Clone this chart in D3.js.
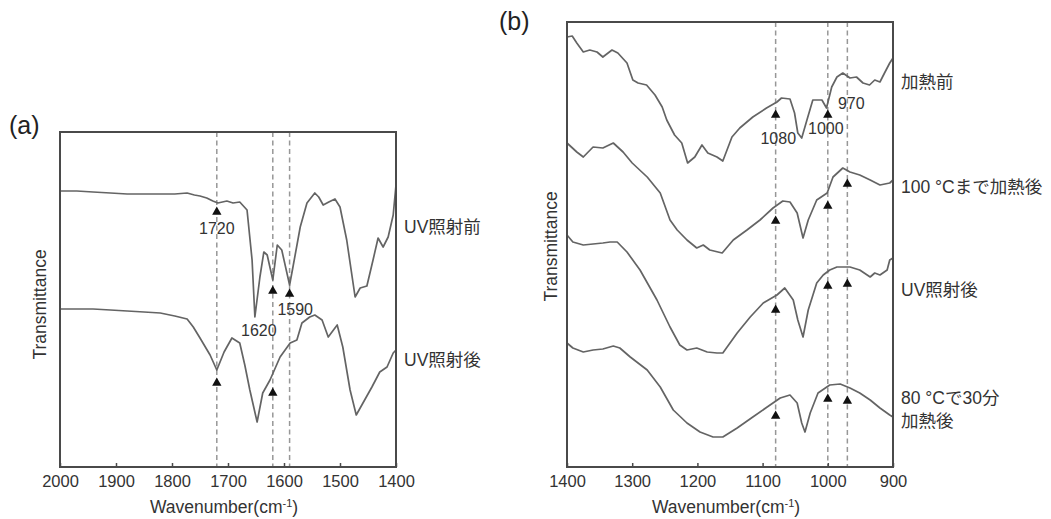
<!DOCTYPE html>
<html>
<head>
<meta charset="utf-8">
<script src="https://cdn.jsdelivr.net/npm/d3@7"></script>
<style>
  html, body { margin: 0; padding: 0; background: #fff; }
  svg { display: block; }
</style>
</head>
<body>
<div id="chart"></div>
<script>
// IR spectra, [wavenumber, transmittance (a.u.)]
const specA_before = [[2000,276],[1970,276],[1941,275],[1910,274],[1880,273],[1850,273],[1821,273],[1795,273],[1773,274],[1760,272],[1750,271],[1738,269],[1727,266],[1718,264],[1702,266],[1691,264],[1679,265],[1666,257],[1657,207],[1652,150],[1643,190],[1636,215],[1630,212],[1620,187],[1612,222],[1604,217],[1590,182],[1584,200],[1571,240],[1559,264],[1545,274],[1538,270],[1530,262],[1520,265],[1509,268],[1500,260],[1488,227],[1473,170],[1464,179],[1452,181],[1441,207],[1432,229],[1423,220],[1414,230],[1405,252],[1400,282]];
const specA_after = [[2000,158],[1970,158],[1941,158],[1910,157],[1880,156],[1850,155],[1821,154],[1795,151],[1773,148],[1762,140],[1750,129],[1732,112],[1720,97],[1707,115],[1693,129],[1679,124],[1670,102],[1661,77],[1648,45],[1638,74],[1625,87],[1607,110],[1589,124],[1577,127],[1568,144],[1554,150],[1545,152],[1532,147],[1521,130],[1505,142],[1495,120],[1482,77],[1471,52],[1459,64],[1443,80],[1429,95],[1416,100],[1405,114],[1400,117]];

const specB_beforeHeat = [[1400,430],[1392,431],[1385,424],[1375,415],[1365,417],[1354,415],[1345,410],[1331,417],[1322,414],[1308,404],[1299,387],[1291,384],[1278,382],[1265,372],[1254,360],[1247,347],[1235,332],[1224,324],[1215,304],[1204,310],[1193,322],[1184,314],[1170,310],[1161,306],[1147,330],[1135,339],[1115,350],[1094,359],[1078,365],[1071,369],[1058,368],[1051,354],[1046,334],[1040,329],[1032,347],[1023,367],[1009,367],[1002,359],[994,380],[986,390],[977,394],[966,389],[956,390],[946,384],[936,382],[928,387],[920,385],[913,394],[905,404],[900,409]];
const specB_after100 = [[1400,324],[1385,315],[1375,310],[1360,320],[1345,319],[1329,324],[1314,315],[1300,304],[1277,290],[1257,274],[1242,247],[1231,237],[1216,227],[1201,219],[1191,222],[1181,217],[1162,214],[1145,227],[1124,237],[1104,247],[1084,259],[1069,266],[1058,265],[1047,254],[1038,229],[1030,247],[1017,267],[1001,274],[992,290],[977,299],[966,295],[951,292],[935,287],[920,282],[905,284],[900,287]];
const specB_afterUV = [[1400,232],[1391,225],[1375,222],[1360,223],[1345,224],[1334,225],[1323,225],[1308,215],[1288,197],[1262,167],[1242,140],[1227,122],[1216,117],[1201,119],[1185,115],[1170,114],[1161,114],[1139,134],[1119,150],[1099,164],[1078,172],[1066,179],[1053,167],[1046,147],[1038,130],[1030,157],[1017,184],[1007,192],[997,197],[986,200],[966,200],[951,197],[935,190],[928,194],[920,192],[909,197],[905,207],[900,209]];
const specB_after80 = [[1400,124],[1391,119],[1375,115],[1360,117],[1345,118],[1329,121],[1319,119],[1303,110],[1277,97],[1257,80],[1237,57],[1216,44],[1196,35],[1176,30],[1161,30],[1139,39],[1115,50],[1093,60],[1073,69],[1058,72],[1047,64],[1040,44],[1035,35],[1027,54],[1015,74],[997,82],[981,83],[966,79],[951,74],[935,67],[920,59],[905,52],[900,50]];

// peak markers [wavenumber, transmittance]
const markersA = [[1720,255],[1620,176],[1590,173],[1720,84],[1620,74]];
const markersB = [[1080,352],[1000,352],[1080,246],[1000,261],[970,283],[1080,157],[1000,181],[970,183],[1080,51],[1000,68],[970,66]];

const peakLinesA = [1720, 1620, 1590];
const peakLinesB = [1080, 1000, 970];
const peakLabelsA = [["1720",1720,239],["1620",1645,137],["1590",1580,158]];
const peakLabelsB = [["1080",1076,329],["1000",1003,339],["970",964,364]];

const ticksA = [2000, 1900, 1800, 1700, 1600, 1500, 1400];
const ticksB = [1400, 1300, 1200, 1100, 1000, 900];

const seriesLabelsA = [["UV照射前", 240], ["UV照射後", 107]];
const seriesLabelsB = [["加熱前", 385], ["100 °Cまで加熱後", 280], ["UV照射後", 177], ["80 °Cで30分", 69], ["加熱後", 46]];

const W = 1051, H = 519;
const font = '"Liberation Sans", Arial, "Noto Sans CJK JP", sans-serif';
const curveColor = '#646464', frameColor = '#4a4a4a', textColor = '#333', dashColor = '#979797';

const svg = d3.select('#chart').append('svg')
  .attr('width', W).attr('height', H)
  .style('font-family', font);
svg.append('rect').attr('width', W).attr('height', H).attr('fill', '#fff');

function panel(cfg) {
  const x = d3.scaleLinear().domain(cfg.xDomain).range([cfg.left, cfg.right]);
  const y = d3.scaleLinear().domain(cfg.yDomain).range([cfg.bottom, cfg.top]);
  const g = svg.append('g');

  // dashed guide lines
  g.selectAll('.peak-line').data(cfg.peakLines).join('line')
    .attr('x1', d => x(d)).attr('x2', d => x(d))
    .attr('y1', cfg.top).attr('y2', cfg.bottom)
    .attr('stroke', dashColor).attr('stroke-width', 1.5)
    .attr('stroke-dasharray', '5,3.5');

  const line = d3.line().x(d => x(d[0])).y(d => y(d[1]));
  g.selectAll('.spec').data(cfg.series).join('path')
    .attr('d', line)
    .attr('fill', 'none')
    .attr('stroke', curveColor)
    .attr('stroke-width', 1.7)
    .attr('stroke-linejoin', 'round');

  g.selectAll('.marker').data(cfg.markers).join('path')
    .attr('d', d3.symbol(d3.symbolTriangle, 38))
    .attr('transform', d => `translate(${x(d[0])},${y(d[1])})`)
    .attr('fill', '#111');

  g.selectAll('.peak-label').data(cfg.peakLabels).join('text')
    .attr('x', d => x(d[1])).attr('y', d => y(d[2]))
    .attr('dy', '0.36em')
    .attr('text-anchor', 'middle')
    .attr('font-size', 16)
    .attr('fill', textColor)
    .text(d => d[0]);

  // frame
  g.append('rect')
    .attr('x', cfg.left).attr('y', cfg.top)
    .attr('width', cfg.right - cfg.left).attr('height', cfg.bottom - cfg.top)
    .attr('fill', 'none').attr('stroke', frameColor).attr('stroke-width', 2);

  const axis = g.append('g')
    .attr('transform', `translate(0,${cfg.bottom})`)
    .call(d3.axisBottom(x).tickValues(cfg.ticks).tickFormat(d3.format('d'))
      .tickSizeInner(-4).tickSizeOuter(0).tickPadding(8));
  axis.select('.domain').remove();
  axis.selectAll('.tick line').attr('stroke', frameColor).attr('stroke-width', 1.5);
  axis.selectAll('.tick text')
    .attr('font-size', 16.5).attr('fill', textColor)
    .attr('font-family', font);

  const xt = g.append('text')
    .attr('x', (cfg.left + cfg.right) / 2 - 4).attr('y', 513)
    .attr('text-anchor', 'middle')
    .attr('font-size', 17.5).attr('fill', textColor);
  xt.append('tspan').text('Wavenumber(cm');
  xt.append('tspan').attr('font-size', 11).attr('dy', -6).text('-1');
  xt.append('tspan').attr('dy', 6).text(')');

  g.append('text')
    .attr('transform', `translate(${cfg.yTitleX},${(cfg.top + cfg.bottom) / 2 + cfg.yTitleShift}) rotate(-90)`)
    .attr('text-anchor', 'middle')
    .attr('dy', '0.36em')
    .attr('font-size', 17.5).attr('fill', textColor)
    .text('Transmittance');

  g.selectAll('.series-label').data(cfg.seriesLabels).join('text')
    .attr('x', cfg.right + 8).attr('y', d => y(d[1]))
    .attr('dy', '0.36em')
    .attr('font-size', 17.5).attr('fill', textColor)
    .text(d => d[0]);

  g.append('text')
    .attr('x', cfg.tagX).attr('y', cfg.tagY)
    .attr('font-size', 25).attr('fill', '#222')
    .text(cfg.tag);
}

panel({
  xDomain: [2000, 1400], yDomain: [0, 335],
  left: 60, right: 396, top: 132, bottom: 467,
  series: [specA_before, specA_after],
  markers: markersA, peakLines: peakLinesA, peakLabels: peakLabelsA,
  ticks: ticksA, seriesLabels: seriesLabelsA,
  yTitleX: 40, yTitleShift: 5, tag: '(a)', tagX: 9, tagY: 134
});

panel({
  xDomain: [1400, 900], yDomain: [0, 445],
  left: 567, right: 893, top: 22, bottom: 467,
  series: [specB_beforeHeat, specB_after100, specB_afterUV, specB_after80],
  markers: markersB, peakLines: peakLinesB, peakLabels: peakLabelsB,
  ticks: ticksB, seriesLabels: seriesLabelsB,
  yTitleX: 551, yTitleShift: 2, tag: '(b)', tagX: 499, tagY: 30
});
</script>
</body>
</html>
